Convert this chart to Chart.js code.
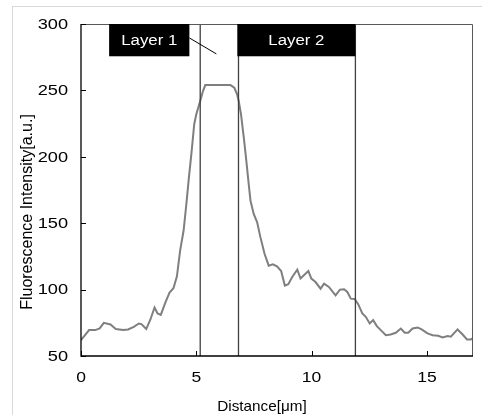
<!DOCTYPE html>
<html>
<head>
<meta charset="utf-8">
<script src="https://cdn.jsdelivr.net/npm/chart.js@4/dist/chart.umd.min.js"></script>
<style>
  html, body { margin: 0; padding: 0; background: #fff; overflow: hidden; }
  #wrap { position: relative; width: 482px; height: 415px; }
  #frame { position: absolute; left: 12px; top: 6px; width: 480px; height: 420px; border: 1px solid #d9d9d9; }
  canvas { position: absolute; left: 0; top: 0; }
</style>
</head>
<body>
<div id="wrap">
  <div id="frame"></div>
  <canvas id="profile_chart" width="482" height="415"></canvas>
</div>
<script>
// line profile
const distance = [0, 0.35, 0.62, 0.81, 0.99, 1.28, 1.51, 1.83, 2.04, 2.29, 2.51, 2.62, 2.83, 3.01, 3.19, 3.32, 3.46, 3.67, 3.84, 4.01,
  4.16, 4.3, 4.45, 4.57, 4.68, 4.8, 4.91, 5.0, 5.17, 5.29, 5.39, 6.48, 6.65, 6.77, 6.84, 6.94, 7.06, 7.17, 7.27, 7.35,
  7.49, 7.64, 7.78, 7.96, 8.14, 8.32, 8.5, 8.68, 8.84, 8.99, 9.16, 9.38, 9.52, 9.7, 9.86, 9.99, 10.17, 10.39, 10.54, 10.75,
  11.04, 11.23, 11.41, 11.55, 11.7, 11.87, 12.02, 12.2, 12.35, 12.52, 12.67, 12.83, 13.0, 13.22, 13.43, 13.65, 13.87, 14.04, 14.19, 14.38,
  14.6, 14.77, 15.03, 15.25, 15.49, 15.68, 15.9, 16.04, 16.33, 16.55, 16.74, 16.91, 17.0];
const intensity = [62, 69.5, 69.5, 70.8, 75, 73.7, 70.3, 69.5, 70, 72, 74.5, 74, 70.3, 77.5, 86.5, 82, 81, 90.7, 97.8, 101,
  110, 129.5, 144.5, 164.5, 184.5, 204.5, 224.5, 232, 242, 249.5, 254, 254, 252, 247, 242, 232, 214.5, 197, 180, 167,
  157, 150.7, 139.5, 127, 118, 119, 117.5, 114, 103, 104, 109.5, 115, 108.3, 111.3, 114, 108.3, 105.7, 100.7, 104.5, 102,
  95.7, 100, 100.2, 98.2, 93.2, 93, 89, 82, 79.5, 74.5, 77, 72.5, 69.5, 65.7, 66.2, 67.5, 70.7, 67.5, 67.5, 70.7,
  71.5, 70, 67, 65.7, 65.2, 64, 65, 64.5, 70, 66.2, 62.5, 62.5, 63.5];

// layer boundaries (distance)
const boundaries = [5.17, 6.83, 11.9];

// label boxes
const layerNames = ["Layer 1", "Layer 2"];
const boxFrom = [1.22, 6.78];
const boxTo = [4.7, 11.9];
const boxBottom = 275.7;

const xTicks = [0, 5, 10, 15];
const yTicks = [50, 100, 150, 200, 250, 300];

const FONT = "'Liberation Sans', Arial, sans-serif";

let points = distance.map((d, i) => ({ x: d, y: intensity[i] }));

let datasets = [{
  data: points,
  borderColor: '#7f7f7f',
  borderWidth: 2,
  pointRadius: 0,
  tension: 0,
  order: 2
}];

boundaries.forEach(b => {
  datasets.push({
    data: [{ x: b, y: 50 }, { x: b, y: 300 }],
    borderColor: '#404040',
    borderWidth: 1.3,
    pointRadius: 0,
    order: 1
  });
});

// text drawn a bit wider than the font, like the original
function wideText(ctx, text, x, y, sx, align) {
  ctx.save();
  ctx.translate(x, y);
  ctx.scale(sx, 1);
  ctx.textAlign = align;
  ctx.fillText(text, 0, 0);
  ctx.restore();
}

// frame, inward ticks, tick labels, label boxes, axis titles
const extras = {
  id: 'extras',
  afterDatasetsDraw(chart) {
    const ctx = chart.ctx;
    const xs = chart.scales.x;
    const ys = chart.scales.y;
    const a = chart.chartArea;
    ctx.save();

    // top / right frame
    ctx.strokeStyle = '#595959';
    ctx.lineWidth = 1;
    ctx.beginPath();
    ctx.moveTo(a.left, a.top + 0.5);
    ctx.lineTo(a.right - 0.5, a.top + 0.5);
    ctx.lineTo(a.right - 0.5, a.bottom);
    ctx.stroke();

    // axes
    ctx.strokeStyle = '#000';
    ctx.lineWidth = 1.3;
    ctx.beginPath();
    ctx.moveTo(a.left, a.top);
    ctx.lineTo(a.left, a.bottom);
    ctx.lineTo(a.right, a.bottom);
    ctx.stroke();

    // inward ticks
    ctx.lineWidth = 1;
    ctx.beginPath();
    yTicks.forEach(v => {
      const py = Math.round(ys.getPixelForValue(v)) + 0.5;
      ctx.moveTo(a.left, py);
      ctx.lineTo(a.left + 5, py);
    });
    xTicks.forEach(v => {
      const px = Math.round(xs.getPixelForValue(v)) + 0.5;
      ctx.moveTo(px, a.bottom);
      ctx.lineTo(px, a.bottom - 5);
    });
    ctx.stroke();

    // tick labels
    ctx.fillStyle = '#000';
    ctx.font = '14px ' + FONT;
    ctx.textBaseline = 'middle';
    yTicks.forEach(v => {
      wideText(ctx, String(v), a.left - 13, ys.getPixelForValue(v) + 1, 1.3, 'right');
    });
    xTicks.forEach(v => {
      wideText(ctx, String(v), xs.getPixelForValue(v), a.bottom + 22, 1.25, 'center');
    });

    // label boxes
    ctx.font = '14px ' + FONT;
    layerNames.forEach((name, i) => {
      const x1 = xs.getPixelForValue(boxFrom[i]);
      const x2 = xs.getPixelForValue(boxTo[i]);
      const y1 = ys.getPixelForValue(300);
      const y2 = ys.getPixelForValue(boxBottom);
      ctx.fillStyle = '#000';
      ctx.fillRect(x1, y1, x2 - x1, y2 - y1);
      ctx.fillStyle = '#fff';
      wideText(ctx, name, (x1 + x2) / 2, (y1 + y2) / 2 + 1, 1.2, 'center');
    });

    // leader from Layer 1 box
    ctx.strokeStyle = '#000';
    ctx.lineWidth = 1;
    ctx.beginPath();
    ctx.moveTo(xs.getPixelForValue(4.7), ys.getPixelForValue(289.5));
    ctx.lineTo(xs.getPixelForValue(5.87), ys.getPixelForValue(277.5));
    ctx.stroke();

    // axis titles
    ctx.fillStyle = '#000';
    ctx.font = '15px ' + FONT;
    wideText(ctx, 'Distance[\u03bcm]', 262, 407, 1.02, 'center');
    ctx.font = '16px ' + FONT;
    ctx.translate(28, 212);
    ctx.rotate(-Math.PI / 2);
    ctx.textAlign = 'center';
    ctx.fillText('Fluorescence Intensity[a.u.]', 0, 0);
    ctx.restore();
  }
};

const ctx = document.getElementById('profile_chart').getContext('2d');

let chart = new Chart(ctx, {
  type: 'line',
  data: { datasets: datasets },
  options: {
    responsive: false,
    animation: false,
    layout: { padding: { left: 12, top: 24, right: 9, bottom: 0 } },
    plugins: {
      legend: { display: false },
      tooltip: { enabled: false }
    },
    scales: {
      x: {
        type: 'linear',
        min: 0,
        max: 17,
        grid: { display: false },
        border: { display: false },
        ticks: { stepSize: 5, includeBounds: false, display: false },
        afterFit(scale) { scale.height = 59; }
      },
      y: {
        min: 50,
        max: 300,
        grid: { display: false },
        border: { display: false },
        ticks: { stepSize: 50, display: false },
        afterFit(scale) { scale.width = 69; }
      }
    }
  },
  plugins: [extras]
});
</script>
</body>
</html>
